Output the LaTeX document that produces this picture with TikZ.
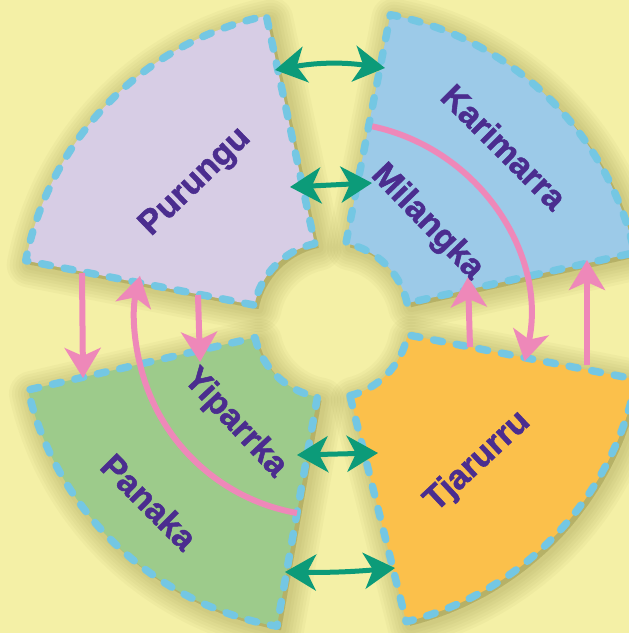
\documentclass[tikz,border=0pt]{standalone}
\usepackage{fontspec}
\setmainfont[BoldFeatures={FakeBold=1.5}]{Liberation Sans}
\usetikzlibrary{arrows.meta}
\definecolor{bgyellow}{RGB}{244,240,166}
\definecolor{glowolive}{RGB}{120,115,40}
\definecolor{rimblue}{RGB}{116,199,227}
\definecolor{purfill}{RGB}{215,205,229}
\definecolor{karfill}{RGB}{156,202,232}
\definecolor{panfill}{RGB}{157,203,139}
\definecolor{tjafill}{RGB}{251,192,75}
\definecolor{pairgreen}{RGB}{12,155,121}
\definecolor{descpink}{RGB}{238,136,185}
\definecolor{namepurple}{RGB}{75,45,143}

\begin{document}
\begin{tikzpicture}[x=1pt,y=1pt,
  sectorline/.style={draw=rimblue,line width=7.5pt,dash pattern=on 9pt off 14pt,line cap=round,line join=round},
  glow/.style={draw=glowolive,fill=glowolive,fill opacity=0.045,draw opacity=0.045,line join=round},
  pairarrow/.style={draw=pairgreen,line width=5pt,{Stealth[length=31pt,width=36pt,inset=9pt]}-{Stealth[length=31pt,width=36pt,inset=9pt]}},
  descent/.style={draw=descpink,line width=6pt,-{Stealth[length=30pt,width=36pt,inset=8pt]}},
  sectionname/.style={text=namepurple,font=\bfseries\fontsize{34}{36}\selectfont}]
\clip (-331,-313) rectangle (298,320);
\fill[bgyellow] (-331,-313) rectangle (298,320);
\foreach \a/\b in {102/169,12.5/79,193/260,284/349}
  \foreach \w in {46,40,34,28,22,16,10}
    \path[glow,line width=\w pt,shift={(4,-4)}] (\a:78) arc[start angle=\a,end angle=\b,radius=78] -- (\b:311) arc[start angle=\b,end angle=\a,radius=311] -- cycle;
\path[fill=purfill,sectorline] (102:78) arc[start angle=102,end angle=169,radius=78] -- (169:311) arc[start angle=169,end angle=102,radius=311] -- cycle;
\path[fill=karfill,sectorline] (12.5:78) arc[start angle=12.5,end angle=79,radius=78] -- (79:311) arc[start angle=79,end angle=12.5,radius=311] -- cycle;
\path[fill=panfill,sectorline] (193:78) arc[start angle=193,end angle=260,radius=78] -- (260:311) arc[start angle=260,end angle=193,radius=311] -- cycle;
\path[fill=tjafill,sectorline] (284:78) arc[start angle=284,end angle=349,radius=78] -- (349:311) arc[start angle=349,end angle=284,radius=311] -- cycle;
\coordinate (pur-a) at (-56,250);
\coordinate (kar-a) at (54,252);
\coordinate (pur-b) at (-41,133);
\coordinate (mil-b) at (41,137);
\coordinate (yip-c) at (-34,-135);
\coordinate (tja-c) at (47,-133);
\coordinate (pan-d) at (-46,-252);
\coordinate (tja-d) at (64,-248);
\draw[pairarrow] (pur-a) to[bend left=9] (kar-a);
\draw[pairarrow] (pur-b) -- (mil-b);
\draw[pairarrow] (yip-c) -- (tja-c);
\draw[pairarrow] (pan-d) to[bend right=3] (tja-d);
\coordinate (pur-e) at (-249,47);
\coordinate (pan-e) at (-248,-58);
\coordinate (pur-f) at (-133,25);
\coordinate (yip-f) at (-131,-42);
\coordinate (tja-g) at (139,-27);
\coordinate (mil-g) at (137,43);
\coordinate (tja-h) at (256,-45);
\coordinate (kar-h) at (256,60);
\coordinate (kar-arc) at (78:198);
\coordinate (pan-arc) at (260:196);
\draw[descent] (pur-e) -- (pan-e);
\draw[descent] (pur-f) -- (yip-f);
\draw[descent] (tja-g) -- (mil-g);
\draw[descent] (tja-h) -- (kar-h);
\draw[descent] (kar-arc) arc[start angle=78,end angle=-12,radius=198];
\draw[descent] (pan-arc) arc[start angle=260,end angle=167,radius=196];
\node[sectionname,rotate=44] (purungu) at (134.5:193) {Purungu};
\node[sectionname,rotate=-45] (karimarra) at (45:245) {Karimarra};
\node[sectionname,rotate=-46] (milangka) at (45.5:137) {Milangka};
\node[sectionname,rotate=-47] (yiparrka) at (227:141) {Yiparrka};
\node[sectionname,rotate=-45] (panaka) at (225:257) {Panaka};
\node[sectionname,rotate=43] (tjarurru) at (-44:204) {Tjarurru};
\end{tikzpicture}
\end{document}
